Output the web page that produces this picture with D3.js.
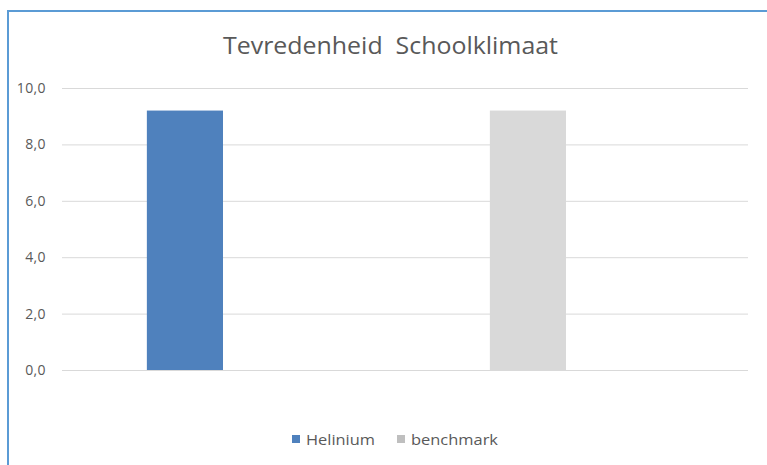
<!DOCTYPE html>
<html><head><meta charset="utf-8">
<script src="https://cdn.jsdelivr.net/npm/d3@7"></script>
<style>
html,body{margin:0;padding:0;background:#fff;}
svg{display:block;}
text{font-family:"Open Sans","Noto Sans",sans-serif;}
</style></head>
<body>
<svg id="chart" width="767" height="465"></svg>
<script>
const title = "Tevredenheid  Schoolklimaat";
const series = ["Helinium", "benchmark"];
const values = [9.2, 9.2];
const colors = ["#4F81BD", "#D9D9D9"];
const legendColors = ["#4F81BD", "#BFBFBF"];
const yTicks = [0, 2, 4, 6, 8, 10];
const yTickLabels = ["0,0", "2,0", "4,0", "6,0", "8,0", "10,0"];

const svg = d3.select("#chart");
const W = 767, H = 465;
const plot = {left: 62, right: 748, top: 88, bottom: 370};

// frame
svg.append("rect").attr("x", 8).attr("y", 11).attr("width", W + 10).attr("height", H + 10)
  .attr("fill", "#fff").attr("stroke", "#5B9BD5").attr("stroke-width", 2);

const y = d3.scaleLinear().domain([0, 10]).range([plot.bottom, plot.top]);
const x = d3.scaleBand().domain(series).range([plot.left, plot.right])
  .paddingInner(0.778).paddingOuter(0.389).align(0.318);

// gridlines + labels
const yAxis = d3.axisLeft(y).tickValues(yTicks)
  .tickFormat((d, i) => yTickLabels[i]).tickSize(-(plot.right - plot.left)).tickPadding(16);
const gy = svg.append("g").attr("transform", `translate(${plot.left},0)`).call(yAxis);
gy.select(".domain").remove();
gy.selectAll(".tick line").attr("stroke", "#D9D9D9").attr("stroke-width", 1);
gy.selectAll(".tick text").attr("fill", "#595959").style("font-size", "14px")
  .style("letter-spacing", "0.4px");

// bars
svg.append("g").selectAll("rect").data(values).join("rect")
  .attr("x", (d, i) => x(series[i]))
  .attr("y", d => y(d))
  .attr("width", x.bandwidth())
  .attr("height", d => y(0) - y(d))
  .attr("fill", (d, i) => colors[i]);

// title
svg.append("text").attr("x", 223).attr("y", 54)
  .attr("fill", "#595959").style("font-size", "24px")
  .attr("xml:space", "preserve")
  .attr("textLength", 335).attr("lengthAdjust", "spacingAndGlyphs")
  .text(title);

// legend
const legendX = [292, 397];
const legendW = [69, 87];
const lg = svg.append("g").attr("transform", "translate(0,435)");
const items = lg.selectAll("g").data(series).join("g")
  .attr("transform", (d, i) => `translate(${legendX[i]},0)`);
items.append("rect").attr("width", 8).attr("height", 8).attr("fill", (d, i) => legendColors[i]);
items.append("text").attr("x", 14).attr("y", 10).attr("fill", "#595959")
  .style("font-size", "15px")
  .attr("textLength", (d, i) => legendW[i]).attr("lengthAdjust", "spacingAndGlyphs")
  .text(d => d);
</script>
</body></html>
